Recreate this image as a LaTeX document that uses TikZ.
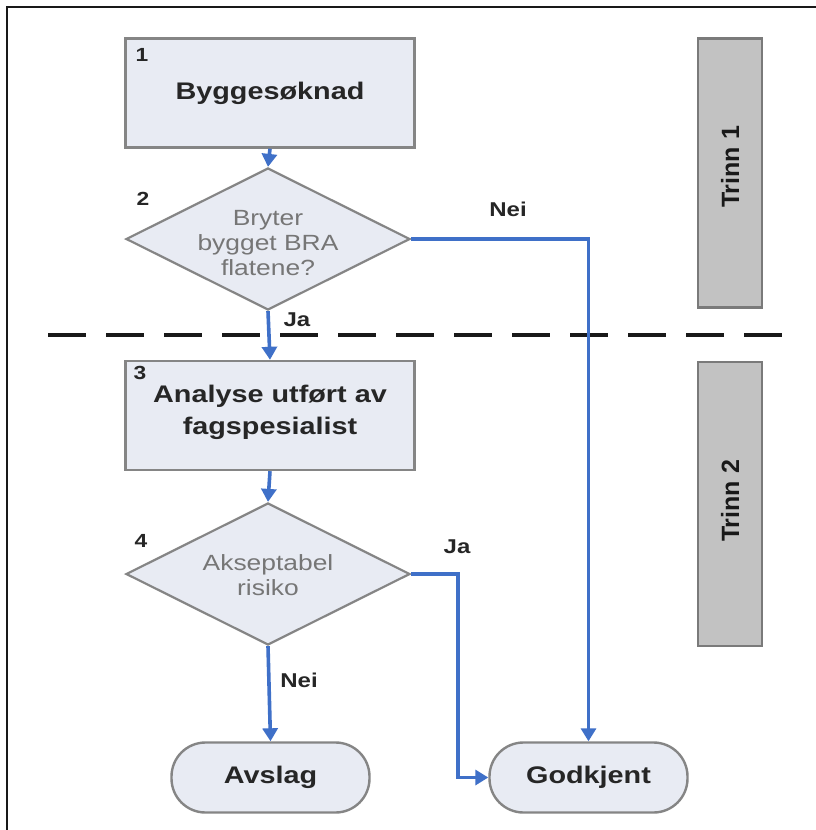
\documentclass[tikz,border=0pt]{standalone}
\usepackage{fontspec}
\setmainfont{Liberation Sans}
\newfontfamily\widefont[FakeStretch=1.2]{Liberation Sans}
\usetikzlibrary{shapes.geometric,arrows.meta}
\definecolor{boxfill}{HTML}{E8EBF3}
\definecolor{boxline}{HTML}{858585}
\definecolor{barfill}{HTML}{C2C2C2}
\definecolor{barline}{HTML}{7A7A7A}
\definecolor{flow}{HTML}{3F70C8}
\definecolor{qtext}{HTML}{767676}
\tikzset{
  procbox/.style={draw=boxline,fill=boxfill,line width=2.4pt,minimum width=289pt,minimum height=109pt,inner sep=0pt,font=\widefont\bfseries\fontsize{24}{32}\selectfont,text=black!85,align=center},
  decision/.style={diamond,draw=boxline,fill=boxfill,line width=2.2pt,minimum width=284pt,minimum height=142pt,inner sep=0pt},
  qlabel/.style={font=\widefont\fontsize{22}{25}\selectfont,text=qtext,align=center},
  term/.style={draw=boxline,fill=boxfill,line width=2.4pt,minimum width=198pt,minimum height=70pt,rounded corners=34pt,inner sep=0pt,font=\widefont\bfseries\fontsize{24}{28}\selectfont,text=black!85},
  bar/.style={draw=barline,fill=barfill,line width=2.4pt,minimum width=64pt,inner sep=0pt},
  bartext/.style={font=\bfseries\fontsize{25}{28}\selectfont,rotate=90,text=black!90},
  num/.style={font=\widefont\bfseries\fontsize{19}{20}\selectfont,text=black!85},
  ans/.style={font=\widefont\bfseries\fontsize{20}{22}\selectfont,text=black!85},
  flowline/.style={draw=flow,line width=3.6pt},
  flowarrow/.style={flowline,-{Triangle[length=13pt,width=15pt]}}
}
\begin{document}
\begin{tikzpicture}[x=1pt,y=-1pt]
\useasboundingbox (0,0) rectangle (816,830);
\fill[white] (0,0) rectangle (816,830);
% frame
\coordinate (fbl) at (7,832);
\coordinate (ftl) at (7,7);
\coordinate (ftr) at (818,7);
\draw[line width=2.2pt,black!90] (fbl) -- (ftl) -- (ftr);
% stage bars
\node[bar,minimum height=269pt] (bar1) at (730,173) {};
\node[bartext] (t1) at (730,167) {Trinn 1};
\node[bar,minimum height=284pt] (bar2) at (730,504) {};
\node[bartext] (t2) at (730,501) {Trinn 2};
% dashed separator
\coordinate (dl) at (48,335);
\coordinate (dr) at (784,335);
\draw[line width=4pt,black!90,dash pattern=on 38pt off 20pt] (dl) -- (dr);
% nodes
\node[procbox] (b1) at (270,93) {Byggesøknad};
\node[num] (n1) at (142,55) {1};
\node[decision] (d2) at (268,239) {};
\node[qlabel] (q2) at (268,243) {Bryter\\bygget BRA\\flatene?};
\node[num] (n2) at (143,199) {2};
\node[procbox] (b3) at (270,415.5) {};
\node[procbox,fill=none,draw=none] (b3t) at (270,412) {Analyse utført av\\fagspesialist};
\node[num] (n3) at (140,373) {3};
\node[decision] (d4) at (268,574) {};
\node[qlabel] (q4) at (268,575) {Akseptabel\\risiko};
\node[num] (n4) at (141,541) {4};
\node[term] (avs) at (270.5,777.5) {Avslag};
\node[term] (god) at (588.5,777.5) {Godkjent};
% answer labels
\node[ans] (ja1) at (297,320) {Ja};
\node[ans] (nei1) at (508,209) {Nei};
\node[ans] (ja2) at (457,547) {Ja};
\node[ans] (nei2) at (299,680) {Nei};
% connectors
\draw[flowarrow] (b1.south) -- (d2.north);
\draw[flowarrow] (d2.south) -- (b3.north);
\draw[flowarrow] (d2.east) -| (god.north);
\draw[flowarrow] (b3.south) -- (d4.north);
\draw[flowarrow] (d4.south) -- (avs.north);
\draw[flowarrow] (d4.east) -- ++(47,0) |- (god.west);
\end{tikzpicture}
\end{document}
